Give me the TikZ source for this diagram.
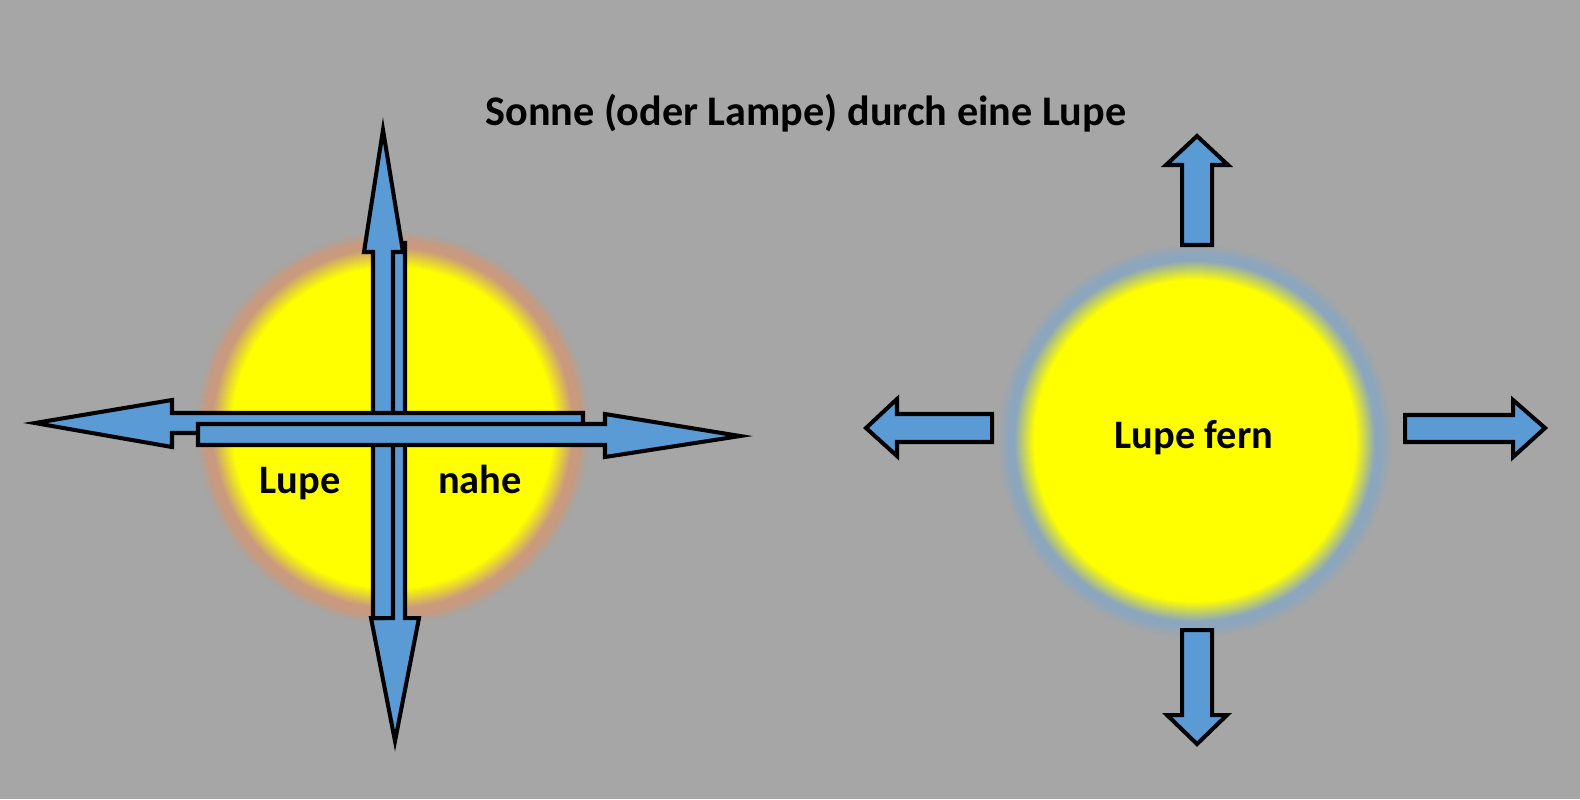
\documentclass[tikz,border=0pt]{standalone}
\usepackage{fontspec}
\setmainfont{Carlito}
\definecolor{bg}{HTML}{A6A6A6}
\definecolor{arrowblue}{HTML}{5B9BD5}
\definecolor{ringL}{HTML}{C99A7E}
\definecolor{ringR}{HTML}{8CA6BD}
\definecolor{sunyellow}{HTML}{FFFF00}
% #1 centre coordinate, #2 ring colour
\newcommand{\sunglowdraw}[2]{%
  \foreach \r in {198,197,...,187}{%
    \pgfmathtruncatemacro{\p}{100*(198-\r)/11}%
    \fill[#2!\p!bg] (#1) circle[radius=\r];
  }%
  \fill[#2] (#1) circle[radius=186];
  \foreach \r in {181,180,...,161}{%
    \pgfmathtruncatemacro{\p}{100*(181-\r)/20}%
    \fill[sunyellow!\p!#2] (#1) circle[radius=\r];
  }%
  \fill[sunyellow] (#1) circle[radius=160];
}
\tikzset{
  blockarrow/.style={fill=arrowblue, draw=black, line width=1.15pt, line join=miter},
  lbl/.style={font=\bfseries\fontsize{11.5}{13}\selectfont, text=black, anchor=base, inner sep=0pt},
  ttl/.style={font=\bfseries\fontsize{12}{14}\selectfont, text=black, anchor=base, inner sep=0pt}
}
\begin{document}
\begin{tikzpicture}[x=0.01cm,y=-0.01cm]
\fill[bg] (0,0) rectangle (1580,799);
\path[use as bounding box] (0,0) rectangle (1580,799);
% suns
\coordinate (sunL) at (393,428);
\coordinate (sunR) at (1195,441);
\sunglowdraw{sunL}{ringL}
\sunglowdraw{sunR}{ringR}
% left figure arrows
\draw[blockarrow] (383,243) -- (405,243) -- (405,618) -- (419,618) -- (395,741) -- (371,618) -- (383,618) -- cycle;
\draw[blockarrow] (373,618) -- (373,252) -- (364,252) -- (383,130) -- (403,252) -- (393,252) -- (393,618) -- cycle;
\draw[blockarrow] (583,413) -- (172,413) -- (172,400) -- (35,423) -- (172,447) -- (172,433) -- (583,433) -- cycle;
\draw[blockarrow] (198,424) -- (605,424) -- (605,414) -- (740,436) -- (605,457) -- (605,445) -- (198,445) -- cycle;
% right figure arrows
\draw[blockarrow] (1182,245) -- (1182,165) -- (1166,165) -- (1197,136) -- (1228,165) -- (1212,165) -- (1212,245) -- cycle;
\draw[blockarrow] (1182,630) -- (1182,715) -- (1167,715) -- (1197,744) -- (1227,715) -- (1212,715) -- (1212,630) -- cycle;
\draw[blockarrow] (992,414) -- (897,414) -- (897,399) -- (866,428) -- (897,456) -- (897,442) -- (992,442) -- cycle;
\draw[blockarrow] (1405,415) -- (1513,415) -- (1513,400) -- (1545,428) -- (1513,457) -- (1513,442) -- (1405,442) -- cycle;
% texts
\node[ttl] (title) at (806,125) {Sonne (oder Lampe) durch eine Lupe};
\node[lbl] (lupe) at (300,493) {Lupe};
\node[lbl] (nahe) at (480,493) {nahe};
\node[lbl] (fern) at (1194,448) {Lupe fern};
\end{tikzpicture}
\end{document}
